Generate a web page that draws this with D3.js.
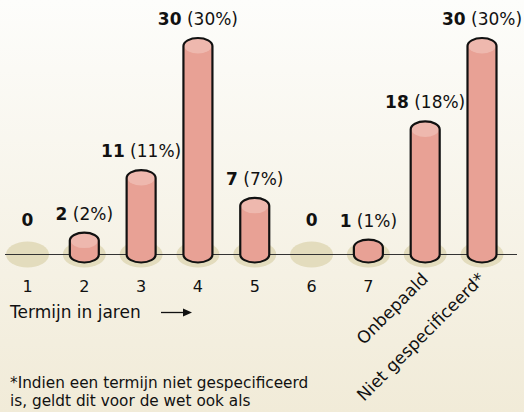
<!DOCTYPE html>
<html>
<head>
<meta charset="utf-8">
<script src="https://cdn.jsdelivr.net/npm/d3@7"></script>
<style>
  html, body { margin: 0; padding: 0; }
  svg { display: block; font-family: "DejaVu Sans", sans-serif; }
</style>
</head>
<body>
<svg id="chart" width="524" height="412"></svg>
<script>
  // Data
  const categories = ['1', '2', '3', '4', '5', '6', '7', 'Onbepaald', 'Niet gespecificeerd*'];
  const counts = [0, 2, 11, 30, 7, 0, 1, 18, 30];
  const percents = [0, 2, 11, 30, 7, 0, 1, 18, 30];
  const axisTitle = 'Termijn in jaren';
  const footnote = ['*Indien een termijn niet gespecificeerd', 'is, geldt dit voor de wet ook als'];

  const width = 524, height = 412;
  const baseY = 254.5;
  const rx = 14.5, ry = 8;

  const svg = d3.select('#chart');

  // background gradient
  const defs = svg.append('defs');
  const bg = defs.append('linearGradient').attr('id', 'bg').attr('x1', 0).attr('y1', 0).attr('x2', 0).attr('y2', 1);
  bg.append('stop').attr('offset', '0%').attr('stop-color', '#fdfdfb');
  bg.append('stop').attr('offset', '100%').attr('stop-color', '#f1ebd8');
  svg.append('rect').attr('width', width).attr('height', height).attr('fill', 'url(#bg)');

  const x = d3.scalePoint().domain(categories).range([27.5, 482]);
  const y = d3.scaleLinear().domain([0, 30]).range([baseY, 46]);

  const data = categories.map((c, i) => ({ cat: c, count: counts[i], pct: percents[i] }));

  // shadows under every position
  svg.append('g').selectAll('ellipse').data(data).join('ellipse')
    .attr('cx', d => x(d.cat))
    .attr('cy', baseY)
    .attr('rx', 21.5)
    .attr('ry', 13)
    .attr('fill', '#e3dcbd');

  // baseline
  svg.append('line')
    .attr('x1', 5).attr('x2', 517)
    .attr('y1', baseY).attr('y2', baseY)
    .attr('stroke', '#333').attr('stroke-width', 1);

  function barPath(d) {
    const cx = x(d.cat), top = y(d.count);
    return `M${cx - rx},${top} A${rx},${ry} 0 0 1 ${cx + rx},${top} L${cx + rx},${baseY} A${rx},${ry} 0 0 1 ${cx - rx},${baseY} Z`;
  }

  const bars = svg.append('g').selectAll('g').data(data.filter(d => d.count > 0)).join('g');
  bars.append('path').attr('d', barPath).attr('fill', '#e8a195');
  bars.filter(d => baseY - y(d.count) > ry).append('ellipse')
    .attr('cx', d => x(d.cat))
    .attr('cy', d => y(d.count))
    .attr('rx', rx - 1)
    .attr('ry', ry - 0.5)
    .attr('fill', '#eeb8ae');
  bars.append('path').attr('d', barPath)
    .attr('fill', 'none').attr('stroke', '#111').attr('stroke-width', 2.2);

  // value labels
  const labels = svg.append('g').selectAll('text').data(data).join('text')
    .attr('x', d => x(d.cat))
    .attr('y', d => d.count > 0 ? y(d.count) - ry - 13 : 226)
    .attr('text-anchor', 'middle')
    .attr('font-size', 17)
    .attr('fill', '#111');
  labels.append('tspan').attr('font-weight', 'bold').text(d => d.count);
  labels.filter(d => d.count > 0).append('tspan').text(d => ` (${d.pct}%)`);

  // category labels
  const ticks = svg.append('g').selectAll('text').data(data).join('text')
    .attr('fill', '#111')
    .text(d => d.cat);
  ticks.filter(d => d.cat.length === 1)
    .attr('x', d => x(d.cat))
    .attr('y', 292)
    .attr('font-size', 16)
    .attr('text-anchor', 'middle');
  ticks.filter(d => d.cat.length > 1)
    .attr('font-size', 17)
    .attr('text-anchor', 'end')
    .attr('transform', d => `translate(${x(d.cat) + 4},280) rotate(-45)`);

  // axis title with arrow
  svg.append('text').attr('x', 10).attr('y', 318).attr('font-size', 17).attr('fill', '#111').text(axisTitle);
  svg.append('line').attr('x1', 161).attr('x2', 184).attr('y1', 312.5).attr('y2', 312.5)
    .attr('stroke', '#111').attr('stroke-width', 1.3);
  svg.append('path').attr('d', 'M183,308.5 L192,312.5 L183,316.5 Z').attr('fill', '#111');

  // footnote
  svg.append('g').selectAll('text').data(footnote).join('text')
    .attr('x', 10)
    .attr('y', (d, i) => 388 + i * 18)
    .attr('font-size', 15.3)
    .attr('fill', '#111')
    .text(d => d);
</script>
</body>
</html>
